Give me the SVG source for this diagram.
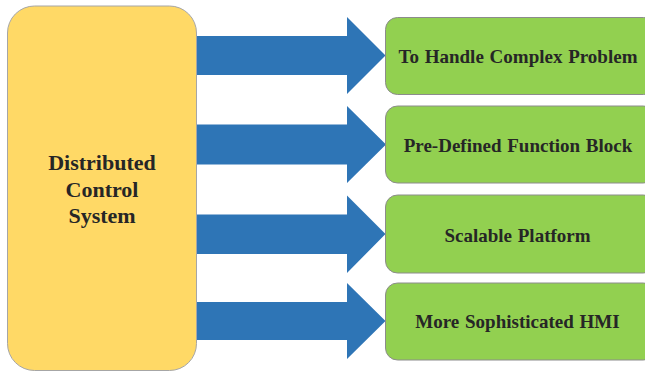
<svg xmlns="http://www.w3.org/2000/svg" width="645" height="372" viewBox="0 0 645 372">
<style>
.arrow{fill:#2E75B6;}
.src{fill:#FFD966;stroke:#A6A6A6;stroke-width:1;}
.box{fill:#92D050;stroke:#8C8C8C;stroke-width:1;}
.lbl{font-family:"Liberation Serif","Times New Roman",serif;font-weight:bold;fill:#262626;text-anchor:middle;}
.big{font-size:22px;}
.sm{font-size:19px;word-spacing:1px;}
</style>
<rect width="645" height="372" fill="#FFFFFF"/>
<g id="connectors">
<polygon class="arrow" points="196,36 347,36 347,17 385.5,55.5 347,94 347,75 196,75"/>
<polygon class="arrow" points="196,124.5 347,124.5 347,106 386,144.5 347,183 347,164.5 196,164.5"/>
<polygon class="arrow" points="196,214.5 347,214.5 347,195.5 385.5,234 347,273 347,254 196,254"/>
<polygon class="arrow" points="196,302 347,302 347,283 385.5,321 347,359 347,340 196,340"/>
</g>
<g id="dcs">
<rect class="src" x="7.5" y="6" width="189" height="364.5" rx="27" ry="27"/>
<text class="lbl big" x="102" y="170">Distributed</text>
<text class="lbl big" x="102" y="196.5">Control</text>
<text class="lbl big" x="102" y="223">System</text>
</g>
<g id="node1">
<rect class="box" x="385.5" y="17.5" width="270" height="77" rx="12" ry="12"/>
<text class="lbl sm" x="518" y="62.5">To Handle Complex Problem</text>
</g>
<g id="node2">
<rect class="box" x="385.5" y="106" width="270" height="77" rx="12" ry="12"/>
<text class="lbl sm" x="518" y="151.5">Pre-Defined Function Block</text>
</g>
<g id="node3">
<rect class="box" x="385.5" y="195" width="270" height="78" rx="12" ry="12"/>
<text class="lbl sm" x="517.5" y="241.5">Scalable Platform</text>
</g>
<g id="node4">
<rect class="box" x="385.5" y="283" width="270" height="77" rx="12" ry="12"/>
<text class="lbl sm" x="517.5" y="328">More Sophisticated HMI</text>
</g>
</svg>
